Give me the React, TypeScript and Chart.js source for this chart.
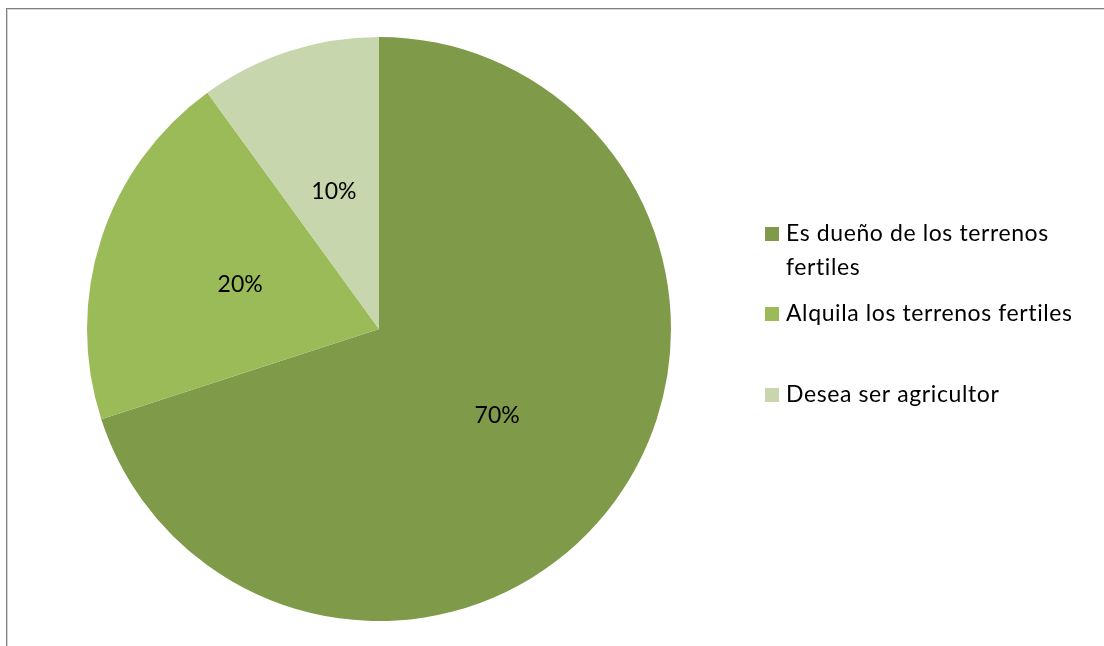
import React, { useEffect, useRef } from "react";
import { Chart, registerables } from "chart.js";

Chart.register(...registerables);

const categories: string[][] = [
  ["Es dueño de los terrenos", "fertiles"],
  ["Alquila los terrenos fertiles"],
  ["Desea ser agricultor"],
];
const values: number[] = [70, 20, 10];
const valueLabels: string[] = ["70%", "20%", "10%"];
const colors: string[] = ["#7F9A48", "#9BBB59", "#C7D6AD"];

const FONT = "Lato, 'Open Sans', sans-serif";

const framePlugin = {
  id: "frame",
  beforeDraw(chart: any) {
    const ctx = chart.ctx;
    ctx.save();
    ctx.fillStyle = "#ffffff";
    ctx.fillRect(0, 0, chart.width, chart.height);
    ctx.strokeStyle = "#808080";
    ctx.lineWidth = 1;
    ctx.strokeRect(6.5, 8.5, chart.width + 20, chart.height + 20);
    ctx.strokeStyle = "#d4d4d4";
    ctx.strokeRect(7.5, 9.5, chart.width + 20, chart.height + 20);
    ctx.restore();
  },
};

const sliceLabelPlugin = {
  id: "sliceLabels",
  afterDatasetsDraw(chart: any) {
    const ctx = chart.ctx;
    const meta = chart.getDatasetMeta(0);
    ctx.save();
    ctx.fillStyle = "#000000";
    ctx.font = `23px ${FONT}`;
    ctx.textAlign = "center";
    ctx.textBaseline = "middle";
    meta.data.forEach((arc: any, i: number) => {
      const p = arc.getProps(["x", "y", "startAngle", "endAngle", "outerRadius"], true);
      const mid = (p.startAngle + p.endAngle) / 2;
      const r = p.outerRadius * 0.5;
      ctx.fillText(valueLabels[i], p.x + Math.cos(mid) * r, p.y + Math.sin(mid) * r + 1);
    });
    ctx.restore();
  },
};

const legendPlugin = {
  id: "customLegend",
  afterDraw(chart: any, _args: any, opts: any) {
    const ctx = chart.ctx;
    const x0: number = opts.x;
    const tops: number[] = opts.tops;
    const lineH: number = opts.lineHeight;
    ctx.save();
    ctx.font = `23px ${FONT}`;
    (ctx as any).letterSpacing = "0.6px";
    ctx.textBaseline = "middle";
    ctx.textAlign = "left";
    categories.forEach((lines, i) => {
      const y = tops[i];
      ctx.fillStyle = colors[i];
      ctx.fillRect(x0, y - 7, 14, 14);
      ctx.fillStyle = "#000000";
      lines.forEach((ln, j) => {
        ctx.fillText(ln, x0 + 21, y + j * lineH);
      });
    });
    ctx.restore();
  },
};

export default function App() {
  const ref = useRef<HTMLCanvasElement | null>(null);
  useEffect(() => {
    document.body.style.margin = "0";
    const chart = new Chart(ref.current as HTMLCanvasElement, {
      type: "pie",
      data: {
        labels: categories.map((c) => c.join(" ")),
        datasets: [
          {
            data: values,
            backgroundColor: colors,
            borderWidth: 0,
          },
        ],
      },
      options: {
        animation: false,
        responsive: false,
        maintainAspectRatio: false,
        layout: { padding: { left: 87, top: 37, right: 433, bottom: 25 } },
        plugins: {
          legend: { display: false },
          tooltip: { enabled: false },
          customLegend: { x: 765, tops: [234, 314, 395], lineHeight: 34 },
        } as any,
      },
      plugins: [framePlugin, sliceLabelPlugin, legendPlugin],
    });
    return () => chart.destroy();
  }, []);
  return (
    <div style={{ position: "absolute", left: 0, top: 0, width: 1104, height: 646 }}>
      <canvas ref={ref} width={1104} height={646} style={{ display: "block" }} />
    </div>
  );
}
